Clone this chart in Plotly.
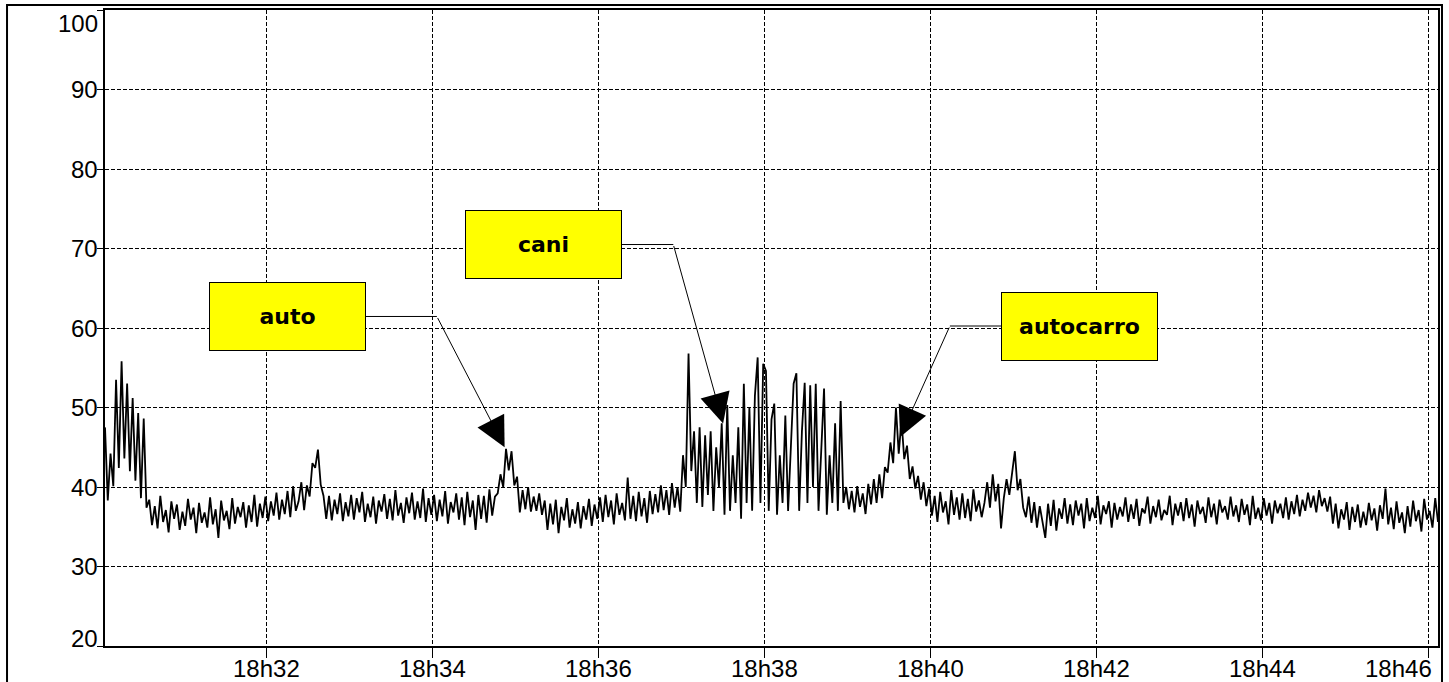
import datetime as dt
import plotly.graph_objects as go

# ---------------- data (sound level, dB, one reading every 2 s from 18:30:03) -------------
burst_start = [47.5, 38.3, 44.2, 40.1, 53.5, 42.4, 55.8, 43.6, 53.0, 42.0,
               51.2, 40.8, 49.3, 38.6, 48.6, 37.4]
base_1 = [38.4, 35.2, 37.6, 34.8, 38.9, 35.6, 37.1, 34.3, 38.2, 36.0,
          37.8, 34.6, 36.9, 35.1, 38.5, 35.9, 37.4, 34.2, 38.0, 35.5,
          36.8, 34.9, 38.7, 35.3, 37.2, 33.6, 38.3, 35.8, 37.0, 34.7,
          38.6, 35.4, 37.5, 36.2, 38.1, 34.9, 37.7, 35.6, 39.0, 35.0,
          37.9, 36.1, 38.8, 35.7, 38.2, 36.4, 39.3, 35.9, 38.4, 36.6,
          39.5, 36.2, 40.1, 37.0]
bump_1 = [38.2, 40.6, 37.1, 40.2, 38.8, 43.0, 42.4, 44.7, 40.3, 38.9]
base_2 = [36.0, 38.9, 35.8, 38.4, 36.6, 39.2, 35.7, 38.1, 36.3, 39.0,
          35.9, 38.6, 36.8, 39.4, 35.6, 37.9, 36.2, 38.8, 35.4, 38.3,
          36.9, 39.1, 36.0, 38.5, 35.8, 39.6, 36.4, 38.0, 35.5, 38.7,
          36.7, 39.3, 35.9, 38.2, 36.1, 39.8, 35.6, 38.6, 36.5, 39.0,
          35.7, 38.4, 36.3, 39.5, 35.4, 38.1, 36.8, 39.2, 35.9, 38.7,
          35.2, 39.4, 36.2, 38.3, 34.6, 39.0, 36.0, 38.9, 35.5, 39.7,
          36.4, 38.8]
auto_event = [39.2, 41.6, 40.0, 44.8, 42.1, 44.5, 40.2, 41.3]
base_3 = [36.8, 39.6, 37.2, 40.0, 36.9, 38.8, 37.0, 39.2, 36.5, 38.3,
          34.6, 37.9, 35.3, 38.4, 34.2, 37.5, 35.8, 38.6, 34.9, 37.2,
          35.4, 38.1, 34.8, 37.6, 35.9, 38.5, 35.1, 37.8, 36.0, 38.7,
          35.6, 39.0, 36.2, 38.3, 35.3, 39.2, 36.5, 38.0, 35.8, 41.2,
          36.0, 38.9, 35.7, 39.4, 36.3, 38.6, 35.5, 39.5, 36.6, 39.1,
          36.8, 40.2, 37.1, 39.6, 36.5, 40.5, 37.4, 40.0, 36.9]
cani_event = [44.0, 40.0, 56.8, 42.0, 47.0, 38.0, 47.5, 37.5, 46.5, 39.0,
              47.0, 37.0, 45.0, 40.0, 48.0, 36.5, 50.3, 37.0, 44.0, 38.0,
              47.5, 36.0, 53.0, 38.0, 50.0, 37.0, 51.5, 56.3, 38.0, 55.5,
              54.6, 37.0, 48.5, 50.5, 36.5, 44.0, 38.0, 49.0, 37.0, 45.0,
              53.0, 54.3, 37.0, 47.0, 53.1, 38.0, 52.8, 40.0, 53.0, 37.0,
              45.0, 52.4, 36.5, 44.0, 38.0, 48.0, 37.0, 50.8, 38.0, 40.0]
base_4 = [37.2, 39.5, 36.8, 40.1, 37.5, 39.2, 36.6, 40.4, 37.8, 41.0,
          38.0, 41.6, 38.6, 42.5]
autocarro_event = [41.8, 45.6, 43.0, 50.0, 44.2, 48.4, 43.5, 45.2, 41.0, 42.6,
                   39.8, 41.4, 38.4, 40.6]
base_5 = [37.6, 39.8, 36.4, 38.9, 35.6, 39.4, 36.8, 38.2, 35.3, 39.6,
          36.5, 38.7, 35.9, 39.2, 36.1, 38.5, 35.7, 39.7, 36.9, 38.3,
          36.2]
bump_2 = [38.0, 40.6, 37.4, 41.6, 38.2, 40.4, 34.8, 38.6, 41.0, 39.0,
          41.5, 44.5, 39.6, 41.0, 37.4]
base_6 = [36.2, 38.8, 35.5, 38.1, 34.9, 37.6, 35.8, 33.6, 37.9, 35.1,
          38.4, 34.5, 37.3, 36.0, 38.6, 35.4, 37.8,
          35.2, 38.3, 36.4, 37.9, 34.8, 38.6, 35.7, 37.4, 36.1, 38.9,
          35.3, 37.7, 36.6, 38.2, 34.9, 38.0, 35.9, 37.5, 36.3, 38.7,
          35.6, 37.8, 36.0, 38.5, 35.1, 37.3, 36.7, 38.8, 35.4, 37.6,
          36.2, 38.4, 35.8, 37.1, 36.5, 38.9, 35.2, 37.9, 36.4, 38.1,
          35.7, 38.6, 36.1, 37.8, 35.0, 38.3, 36.6, 37.5, 35.5, 38.7,
          36.2, 37.9, 35.3, 38.4, 36.8, 37.6, 35.9, 38.8, 36.3, 37.7,
          35.6, 38.5, 36.5, 37.8, 35.2, 38.9, 36.0, 37.4, 35.8, 38.6,
          36.4, 38.0, 35.4, 38.3, 36.7, 37.9, 36.1, 38.7, 35.9, 38.2,
          36.6, 39.0, 36.3, 38.4,
          37.0, 39.3, 37.4, 38.9, 36.8, 39.6, 37.6, 38.6, 36.9, 38.8,
          35.4, 37.9, 34.8, 37.2, 35.9, 38.1, 34.6, 37.5, 35.6, 37.8,
          34.9, 36.9, 35.2, 38.0, 35.8, 37.3, 34.5, 37.7, 36.0, 39.8,
          35.3, 37.4, 34.7, 38.2, 35.5, 36.8, 34.2, 37.6, 35.0, 38.3,
          35.7, 37.1, 34.4, 38.5, 35.9, 37.0, 34.9, 38.6, 35.6]

levels = (burst_start + base_1 + bump_1 + base_2 + auto_event + base_3 +
          cani_event + base_4 + autocarro_event + base_5 + bump_2 + base_6)

start_time = dt.datetime(2000, 1, 1, 18, 30, 3)
sample_step = dt.timedelta(seconds=2)
times = [start_time + i * sample_step for i in range(len(levels))]

y_ticks = [20, 30, 40, 50, 60, 70, 80, 90, 100]
y_ticktext = ["20", "30", "40", "50", "60", "70", "80", "90", "100"]
x_ticks = ["18:32", "18:34", "18:36", "18:38", "18:40", "18:42", "18:44", "18:46"]
x_ticktext = ["18h32", "18h34", "18h36", "18h38", "18h40", "18h42", "18h44", "18h46"]

# callouts: label, box centre (time, level), elbow (time, level), arrow tip (time, level)
callout_labels = ["auto", "cani", "autocarro"]
callout_box_t = ["18:32:15", "18:35:20", "18:41:48"]
callout_box_v = [61.45, 70.5, 60.25]
callout_elbow_t = ["18:34:03", "18:36:54", "18:40:14"]
callout_elbow_v = [61.45, 70.5, 60.25]
callout_tip_t = ["18:34:52", "18:37:30", "18:39:38"]
callout_tip_v = [45.0, 48.0, 46.3]

DAY = "2000-01-01 "
FONT = "Liberation Sans, Arial, sans-serif"
TICK_FONT = dict(family=FONT, size=24, color="black")

fig = go.Figure()
fig.add_trace(go.Scatter(
    x=times, y=levels, mode="lines",
    line=dict(color="black", width=1.8),
    hoverinfo="x+y", showlegend=False,
))

annotations = []
shapes = []
for lab, bt, bv, et, ev, tt, tv in zip(callout_labels, callout_box_t, callout_box_v,
                                       callout_elbow_t, callout_elbow_v,
                                       callout_tip_t, callout_tip_v):
    # horizontal leader from box centre to elbow (box drawn on top)
    shapes.append(dict(type="line", xref="x", yref="y",
                       x0=DAY + bt, y0=bv, x1=DAY + et, y1=ev,
                       line=dict(color="black", width=1), layer="above"))
    # slanted leader with arrow head
    annotations.append(dict(x=DAY + tt, y=tv, xref="x", yref="y",
                            ax=DAY + et, ay=ev, axref="x", ayref="y",
                            text="", showarrow=True, arrowhead=2,
                            arrowsize=6, arrowwidth=1, arrowcolor="black",
                            standoff=0))
    # yellow label box
    annotations.append(dict(x=DAY + bt, y=bv, xref="x", yref="y",
                            text="<b>" + lab + "</b>", showarrow=False,
                            font=dict(family="Comic Sans MS, DejaVu Sans, sans-serif",
                                      size=22, color="black"),
                            bgcolor="#ffff00", bordercolor="black",
                            borderwidth=1, borderpad=0,
                            width=155, height=67,
                            xanchor="center", yanchor="middle"))

# y tick labels (end labels pulled inside the plot height, as in the original)
y_label_shift = {20: 8, 100: -13}
for v, txt in zip(y_ticks, y_ticktext):
    annotations.append(dict(x=-0.0035, y=v, xref="paper", yref="y",
                            yshift=y_label_shift.get(v, 0),
                            text=txt, showarrow=False, xanchor="right",
                            yanchor="middle", font=TICK_FONT))

# x tick labels (last one kept inside the frame, as in the original)
for i, (t, txt) in enumerate(zip(x_ticks, x_ticktext)):
    last = i == len(x_ticks) - 1
    annotations.append(dict(x=DAY + t, y=-0.035, xref="x", yref="paper",
                            xshift=6 if last else 0,
                            text=txt, showarrow=False,
                            xanchor="right" if last else "center",
                            yanchor="middle", font=TICK_FONT))

# outer frame
shapes.append(dict(type="rect", xref="paper", yref="paper",
                   x0=-0.0735, x1=1.003, y0=-0.1, y1=1.0079,
                   line=dict(color="black", width=2), layer="above"))

fig.update_layout(
    width=1449, height=682,
    margin=dict(l=105, r=11, t=10, b=36),
    paper_bgcolor="white", plot_bgcolor="white",
    font=dict(family=FONT, size=24, color="black"),
    annotations=annotations, shapes=shapes,
    xaxis=dict(
        type="date",
        range=[DAY + "18:30:03", DAY + "18:46:07"],
        tickvals=[DAY + t for t in x_ticks], showticklabels=False,
        showgrid=True, gridcolor="black", gridwidth=1, griddash="4px,2px",
        showline=True, linecolor="black", linewidth=1.5, mirror=True,
        ticks="outside", ticklen=10, tickcolor="black", tickwidth=1,
        automargin=False, zeroline=False, fixedrange=True,
    ),
    yaxis=dict(
        range=[20, 100],
        tickvals=y_ticks, showticklabels=False,
        showgrid=True, gridcolor="black", gridwidth=1, griddash="4px,2px",
        showline=True, linecolor="black", linewidth=1.5, mirror=True,
        ticks="outside", ticklen=6, tickcolor="black", tickwidth=1,
        automargin=False, zeroline=False, fixedrange=True,
    ),
)

fig.write_html("out.html")
